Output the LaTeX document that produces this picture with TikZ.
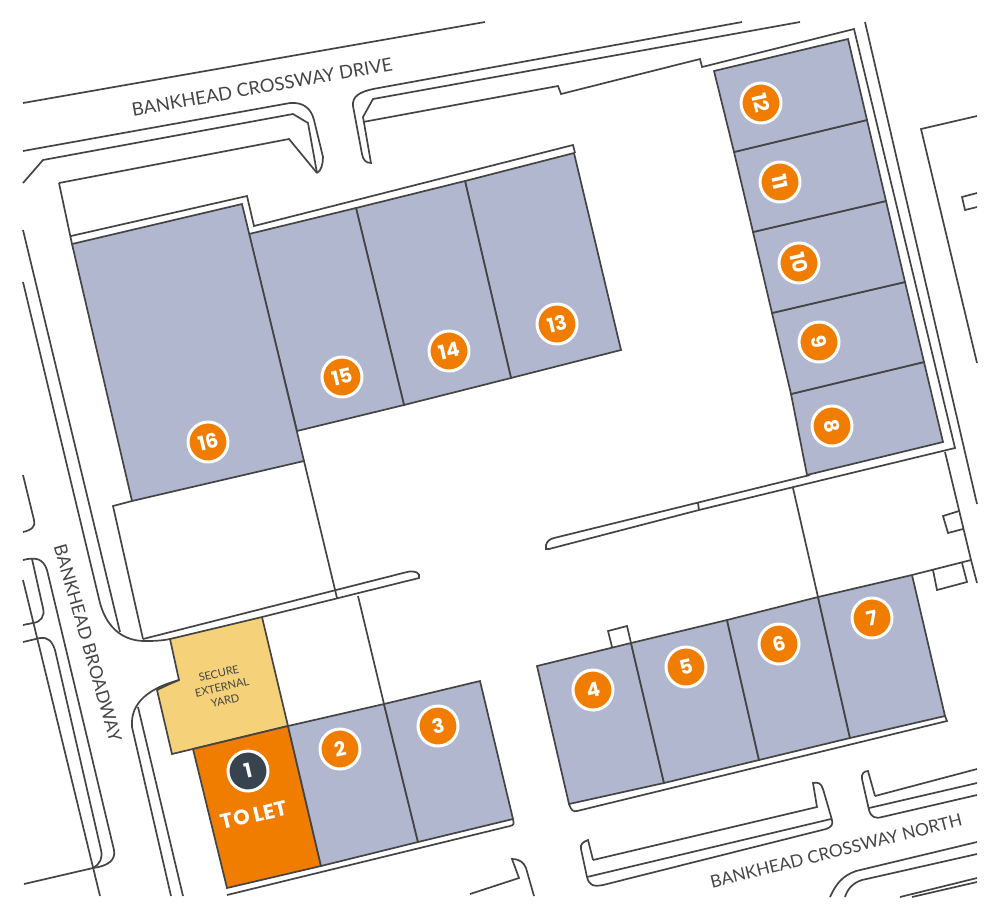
\documentclass[tikz,border=0pt]{standalone}
\usepackage{fontspec}
\setmainfont{Lato}
\newfontfamily\badgefont{Poppins}
\definecolor{unitblue}{HTML}{B0B7CF}
\definecolor{letorange}{HTML}{F07D00}
\definecolor{yardyellow}{HTML}{F5D27A}
\definecolor{darkslate}{HTML}{37434F}
\definecolor{wallgrey}{HTML}{444444}
\tikzset{
  wall/.style={draw=wallgrey, line width=1.7pt},
  unit/.style={wall, fill=unitblue},
  badge/.style={circle, draw=white, line width=3pt, fill=letorange, text=white, minimum size=40pt, inner sep=0pt, font=\badgefont\fontsize{20}{20}\selectfont\bfseries},
  roadname/.style={text=wallgrey, inner sep=0pt, font=\fontsize{18.4}{18.4}\selectfont}
}
\begin{document}
\begin{tikzpicture}[x=1pt,y=-1pt]
\useasboundingbox (0,0) rectangle (1000,914);
% units
\draw[wall, fill=yardyellow] (170,639) -- (262,617) -- (288,726) -- (172,754) -- (157,690) .. controls (165,686) and (172,683) .. (179,680) -- cycle;
\draw[unit, fill=letorange] (193,749) -- (288,726) -- (321,866) -- (227,888) -- cycle;
\draw[unit] (288,726) -- (384,704) -- (418,842) -- (321,866) -- cycle;
\draw[unit] (384,704) -- (480,681) -- (513,819) -- (418,842) -- cycle;
\draw[unit] (537,666) -- (631,643) -- (664,783) -- (569,804) -- cycle;
\draw[unit] (631,643) -- (727,620) -- (759,760) -- (664,783) -- cycle;
\draw[unit] (727,620) -- (818,597) -- (850,738) -- (759,760) -- cycle;
\draw[unit] (818,597) -- (912,575) -- (945,716) -- (850,738) -- cycle;
\draw[unit] (791,394) -- (924,362) -- (943,442) -- (807,475) -- cycle;
\draw[unit] (772,313) -- (905,282) -- (924,362) -- (791,394) -- cycle;
\draw[unit] (753,232) -- (886,201) -- (905,282) -- (772,313) -- cycle;
\draw[unit] (734,152) -- (867,120) -- (886,201) -- (753,232) -- cycle;
\draw[unit] (714,71) -- (848,39) -- (867,120) -- (734,152) -- cycle;
\draw[unit] (465,181) -- (574,153) -- (621,350) -- (511,378) -- cycle;
\draw[unit] (356,208) -- (465,181) -- (511,378) -- (404,405) -- cycle;
\draw[unit] (249,234) -- (356,208) -- (404,405) -- (297,431) -- cycle;
\draw[unit] (72,244) -- (242,204) -- (304,461) -- (132,501) -- cycle;
% north block outline
\draw[wall] (363,122) -- (558,86) -- (561,94) -- (700,59) -- (702,67) -- (854,29) -- (955,448) -- (810,483) -- (699,510) -- (549,549) -- (546,549) -- (546,545) .. controls (547,541) and (550,539) .. (554,538) -- (810,475);
\draw[wall] (59,183) -- (289,139) -- (317,173);
\draw[wall] (59,183) -- (72,244);
\draw[wall] (71,236) -- (247,196) -- (254,226) -- (573,145) -- (575,153);
\draw[wall] (698,503) -- (699,510);
\draw[wall] (132,501) -- (113,506) -- (143,639);
\draw[wall] (304,461) -- (337,598);
\draw[wall] (358,596) -- (384,704);
\draw[wall] (143,639) -- (407,572) .. controls (415,570) and (421,573) .. (419,578) -- (262,617);
\draw[wall] (793,488) -- (818,597);
\draw[wall] (945,452) -- (971,560) -- (912,575);
\draw[wall] (971,560) -- (977,583);
\draw[wall] (865,22) -- (977,504);
\draw[wall] (959,511) -- (943,516) -- (948,533) -- (963,529);
\draw[wall] (933,570) -- (937,590) -- (967,582) -- (962,563);
\draw[wall] (612,647) -- (608,631) -- (627,626) -- (631,643);
\draw[wall] (569,804) .. controls (571,810) and (573,812) .. (577,811) -- (947,721) -- (945,716);
\draw[wall] (513,819) .. controls (514,824) and (514,825) .. (510,826) -- (227,895);
% bankhead crossway drive
\draw[wall] (23,103) -- (485,22);
\draw[wall] (23,151) -- (290,103) .. controls (303,102) and (311,108) .. (314,120) -- (323,157) .. controls (323,164) and (321,171) .. (317,173);
\draw[wall] (23,183) -- (43,160) -- (293,114) -- (308,123) -- (317,173);
\draw[wall] (742,22) -- (373,89) .. controls (360,92) and (352,96) .. (353,106) -- (362,154) .. controls (363,160) and (366,163) .. (371,163) -- (363,117) -- (373,99) -- (800,22);
% bankhead crossway north
\draw[wall] (593,860) -- (588,840) .. controls (583,842) and (580,844) .. (581,849) -- (587,877) .. controls (589,885) and (593,887) .. (603,885) -- (826,829) .. controls (832,827) and (833,824) .. (832,820) -- (823,789) .. controls (821,783) and (818,782) .. (813,783) -- (817,807) -- (593,860);
\draw[wall] (587,877) -- (831,819);
\draw[wall] (875,796) -- (868,771) .. controls (864,771) and (861,774) .. (862,779) -- (869,810) .. controls (871,817) and (875,819) .. (882,817) -- (977,795);
\draw[wall] (875,796) -- (977,769);
\draw[wall] (869,808) -- (977,783);
\draw[wall] (830,897) .. controls (836,884) and (842,876) .. (856,871) -- (977,842);
\draw[wall] (845,897) .. controls (848,888) and (853,883) .. (862,880) -- (977,854);
\draw[wall] (900,897) -- (977,878);
\draw[wall] (912,897) -- (977,882);
\draw[wall] (470,894) -- (519,878) -- (512,859) .. controls (520,859) and (524,863) .. (526,868) -- (534,896);
% bankhead broadway
\draw[wall] (23,230) -- (120,632);
\draw[wall] (23,282) -- (100,603) .. controls (106,625) and (120,640) .. (143,641) .. controls (152,641) and (160,641) .. (170,639);
\draw[wall] (179,680) .. controls (150,688) and (130,702) .. (132,727) -- (171,896);
\draw[wall] (138,707) -- (183,896);
\draw[wall] (23,475) -- (34,520) .. controls (36,526) and (32,530) .. (23,532);
\draw[wall] (23,560) .. controls (35,557) and (43,558) .. (47,570) -- (114,850) .. controls (116,860) and (108,866) .. (93,868) -- (24,884);
\draw[wall] (32,559) -- (43,608) .. controls (45,616) and (41,622) .. (33,623) -- (23,625);
\draw[wall] (23,580) -- (100,896);
\draw[wall] (23,642) -- (40,638) .. controls (48,637) and (52,641) .. (55,650) -- (101,850) .. controls (103,858) and (100,864) .. (93,868);
% east side
\draw[wall] (977,116) -- (921,129) -- (977,363);
\draw[wall] (977,193) -- (962,197) -- (965,210) -- (977,207);
% labels
\node[badge, fill=darkslate, rotate=13] (b1) at (248,771) {1};
\node[badge, rotate=13] (b2) at (340,749) {2};
\node[badge, rotate=13] (b3) at (438,726) {3};
\node[badge, rotate=13] (b4) at (593,690) {4};
\node[badge, rotate=13] (b5) at (686,667) {5};
\node[badge, rotate=13] (b6) at (779,644) {6};
\node[badge, rotate=13] (b7) at (872,618) {7};
\node[badge, rotate=-77] (b8) at (832,426) {8};
\node[badge, rotate=-77] (b9) at (819,342) {9};
\node[badge, rotate=-77] (b10) at (799,263) {10};
\node[badge, rotate=-77] (b11) at (780,182) {11};
\node[badge, rotate=-77] (b12) at (761,103) {12};
\node[badge, rotate=13] (b13) at (557,324) {13};
\node[badge, rotate=13] (b14) at (449,351) {14};
\node[badge, rotate=13] (b15) at (342,377) {15};
\node[badge, rotate=13] (b16) at (208,442) {16};
\node[rotate=13, text=white, inner sep=0pt, font=\badgefont\fontsize{21}{21}\selectfont\bfseries] (tolet) at (254,815) {TO LET};
\node[rotate=13, text=wallgrey, inner sep=0pt, align=center, font=\fontsize{11}{14}\selectfont] (yard) at (222,687) {SECURE\\EXTERNAL\\YARD};
\node[roadname, rotate=10] (drive) at (262,87) {BANKHEAD CROSSWAY DRIVE};
\node[roadname, rotate=14, font=\fontsize{17.3}{17.3}\selectfont] (north) at (836,851) {BANKHEAD CROSSWAY NORTH};
\node[roadname, rotate=-74, font=\fontsize{17.8}{17.8}\selectfont] (broadway) at (88,643) {BANKHEAD BROADWAY};
\end{tikzpicture}
\end{document}
